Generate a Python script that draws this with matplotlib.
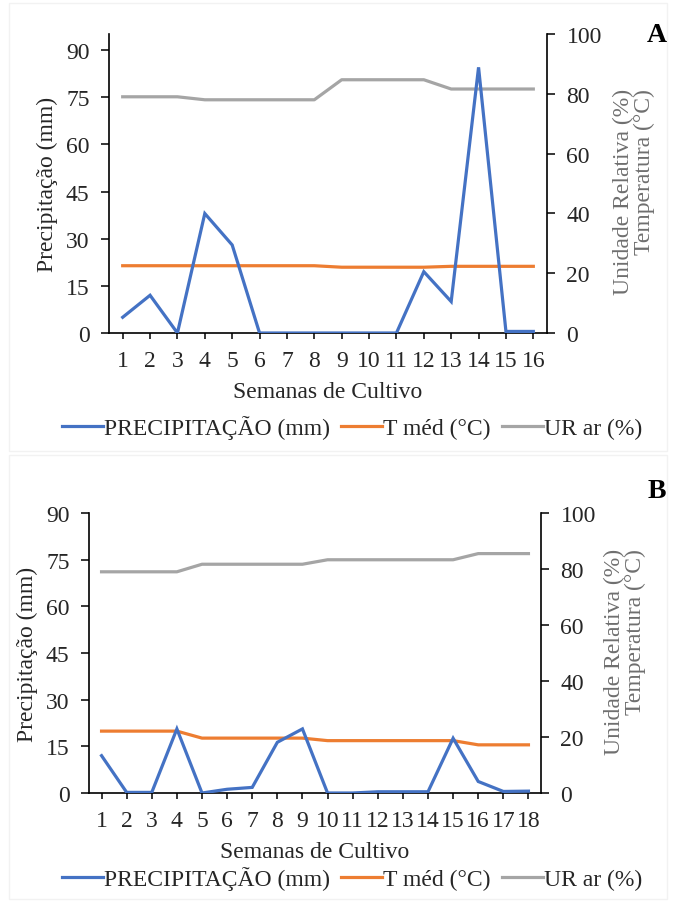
import matplotlib
matplotlib.use("Agg")
import matplotlib.pyplot as plt
from matplotlib.lines import Line2D
from matplotlib.patches import Rectangle

plt.rcParams['font.family'] = ['Liberation Serif', 'DejaVu Serif']

# ---------------- data ----------------
weeks_a = list(range(1, 17))
precip_a = [5, 12, 0, 38, 28, 0, 0, 0, 0, 0, 0, 19.5, 10, 84.5, 0.5, 0.5]
tmed_a = [22.5, 22.5, 22.5, 22.5, 22.5, 22.5, 22.5, 22.5, 22.0, 22.0, 22.0, 22.0, 22.3, 22.3, 22.3, 22.3]
ur_a = [79, 79, 79, 78, 78, 78, 78, 78, 84.7, 84.7, 84.7, 84.7, 81.6, 81.6, 81.6, 81.6]

weeks_b = list(range(1, 19))
precip_b = [12, 0.2, 0.2, 20.6, 0, 1.2, 1.8, 16.3, 20.6, 0, 0, 0.4, 0.4, 0.4, 17.6, 3.7, 0.5, 0.6]
tmed_b = [22.1, 22.1, 22.1, 22.1, 19.6, 19.6, 19.6, 19.6, 19.6, 18.7, 18.7, 18.7, 18.7, 18.7, 18.7, 17.2, 17.2, 17.2]
ur_b = [79, 79, 79, 79, 81.7, 81.7, 81.7, 81.7, 81.7, 83.3, 83.3, 83.3, 83.3, 83.3, 83.3, 85.5, 85.5, 85.5]

left_ticks = [0, 15, 30, 45, 60, 75, 90]
right_ticks = [0, 20, 40, 60, 80, 100]
labels_series = ["PRECIPITAÇÃO (mm)", "T méd (°C)", "UR ar (%)"]
xlabel = "Semanas de Cultivo"
ylabel_left = "Precipitação (mm)"
ylabel_right = "Unidade Relativa (%)\nTemperatura (°C)"

BLUE = "#4472C4"
ORANGE = "#ED7D31"
GRAY = "#A5A5A5"
TXT = "#262626"
RTXT = "#6f6f6f"

W, H = 673, 904
fig = plt.figure(figsize=(W / 100, H / 100), dpi=100)


def px_axes(l, t, r, b):
    return fig.add_axes([l / W, 1 - b / H, (r - l) / W, (b - t) / H])


def fx(x):
    return x / W


def fy(y):
    return 1 - y / H


FS = 17


def panel(rect, weeks, precip, tmed, ur, lmax, letter, letter_xy, ylab_l_x, ylab_r_x, ylab_r_y, leg_y, xlab_y):
    ax = px_axes(*rect)
    ax2 = ax.twinx()
    ax.plot(weeks, precip, color=BLUE, lw=2.3, solid_joinstyle='miter', zorder=3)
    ax2.plot(weeks, tmed, color=ORANGE, lw=2.3)
    ax2.plot(weeks, ur, color=GRAY, lw=2.3)
    ax.set_zorder(ax2.get_zorder() + 1)
    ax.patch.set_visible(False)
    n = len(weeks)
    ax.set_xlim(0.5, n + 0.5)
    ax.set_ylim(0, lmax)
    ax2.set_ylim(0, 100)
    ax.set_xticks(weeks)
    ax.set_xticklabels([str(w) for w in weeks])
    ax.set_yticks(left_ticks)
    ax2.set_yticks(right_ticks)
    for a in (ax, ax2):
        a.spines['top'].set_visible(False)
        for s in a.spines.values():
            s.set_linewidth(1.2)
            s.set_color('black')
    ax2.spines['left'].set_visible(False)
    ax2.spines['bottom'].set_visible(False)
    ax.spines['right'].set_visible(False)
    ax.tick_params(axis='x', direction='out', length=4, width=1.1, pad=8, labelsize=FS, labelcolor=TXT)
    ax.tick_params(axis='y', direction='out', length=6, width=1.1, pad=8, labelsize=FS, labelcolor=TXT)
    ax2.tick_params(axis='y', direction='out', length=6, width=1.1, pad=8, labelsize=FS, labelcolor=TXT)
    fig.text(fx(ylab_l_x), fy((rect[1] + rect[3]) / 2), ylabel_left, rotation=90, ha='center', va='center',
             fontsize=FS, color=TXT)
    fig.text(fx(ylab_r_x), fy(ylab_r_y), ylabel_right, rotation=90, ha='center', va='center',
             multialignment='right', fontsize=FS, color=RTXT, linespacing=1.0)
    fig.text(fx((rect[0] + rect[2]) / 2), fy(xlab_y), xlabel, ha='center', va='center', fontsize=FS, color=TXT)
    fig.text(fx(letter_xy[0]), fy(letter_xy[1]), letter, ha='center', va='center', fontsize=20,
             fontweight='bold', color='black')
    handles = [Line2D([], [], color=c, lw=2.3) for c in (BLUE, ORANGE, GRAY)]
    fig.legend(handles, labels_series, loc='center', bbox_to_anchor=(fx(352), fy(leg_y)), ncol=3,
               frameon=False, fontsize=FS, handlelength=1.75, handletextpad=0.05, columnspacing=0.45,
               labelcolor=TXT, borderaxespad=0, borderpad=0)
    return ax, ax2


# faint panel frames
for (l, t, r, b) in [(9, 4, 667, 452), (9, 456, 667, 900)]:
    fig.add_artist(Rectangle((fx(l), fy(b)), (r - l) / W, (b - t) / H, transform=fig.transFigure,
                             fill=False, edgecolor='#f2f2f2', lw=1))

panel((109, 35, 547, 334), weeks_a, precip_a, tmed_a, ur_a, 95.1, "A", (657, 36), 47, 634, 192, 428, 393)
panel((89, 514, 541, 794), weeks_b, precip_b, tmed_b, ur_b, 90, "B", (657, 492), 27, 625, 652, 879, 853)

fig.savefig("out.png", dpi=100, facecolor='white')
